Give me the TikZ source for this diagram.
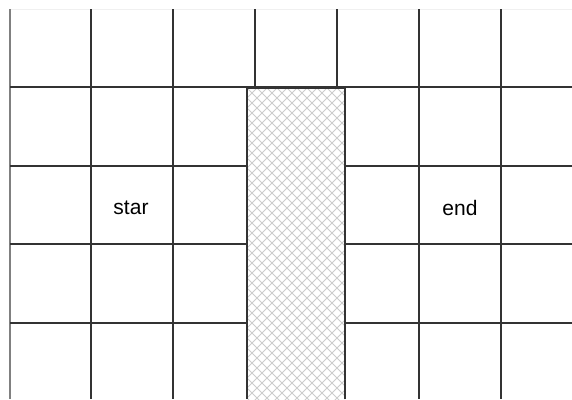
\documentclass[tikz,border=0pt]{standalone}
\usepackage{fontspec}
\setmainfont{Liberation Sans}
\begin{document}
\begin{tikzpicture}[x=1pt, y=-1pt,
  gridline/.style={black!80, line width=1.6pt},
  hatch/.style={black!20, line width=1pt},
  celltext/.style={font=\fontsize{21}{25}\selectfont}]

	\useasboundingbox (0,0) rectangle (572,399);

	% Outer edges
	\draw[black!6, line width=1pt] (10,9) -- (572,9);
	\draw[black!50, line width=1.6pt] (10,9) -- (10,399);

	% Hatched wall
	\begin{scope}
		\clip (247,88) rectangle (345,399);
		\foreach \k in {-330,-320,...,110}
			\draw[hatch] (247+\k,88) -- ++(330,330);
		\foreach \k in {0,10,...,430}
			\draw[hatch] (247+\k,88) -- ++(-330,330);
	\end{scope}
	\draw[gridline] (247,399) -- (247,88) -- (345,88) -- (345,399);

	% Vertical lines
	\foreach \x in {91,173,419,501}
		\draw[gridline] (\x,9) -- (\x,399);
	\foreach \x in {255,337}
		\draw[gridline] (\x,9) -- (\x,88);

	% Horizontal lines
	\draw[gridline] (10,87) -- (572,87);
	\foreach \y in {166,244,323} {
		\draw[gridline] (10,\y) -- (247,\y);
		\draw[gridline] (345,\y) -- (572,\y);
	}

	% Labels
	\node[celltext] (star) at (131,208) {star};
	\node[celltext] (goal) at (460,208) {end};

\end{tikzpicture}
\end{document}
